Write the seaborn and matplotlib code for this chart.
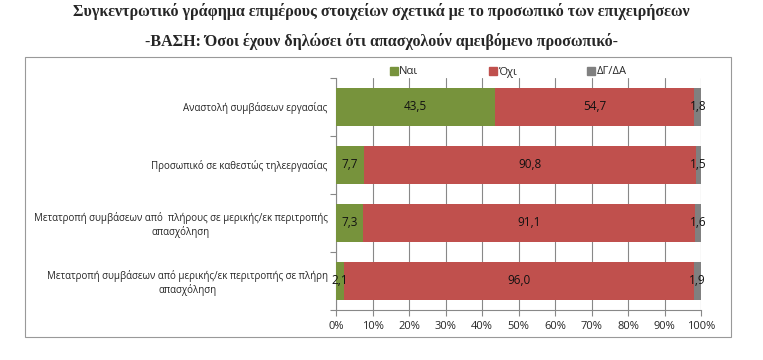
import numpy as np
import pandas as pd
import seaborn as sns
from matplotlib import pyplot as plt
from matplotlib.patches import Rectangle
from matplotlib.lines import Line2D

categories = [
    "Αναστολή συμβάσεων εργασίας",
    "Προσωπικό σε καθεστώς τηλεεργασίας",
    "Μετατροπή συμβάσεων από  πλήρους σε μερικής/εκ περιτροπής\nαπασχόληση",
    "Μετατροπή συμβάσεων από μερικής/εκ περιτροπής σε πλήρη\nαπασχόληση",
]
nai = [43.5, 7.7, 7.3, 2.1]
oxi = [54.7, 90.8, 91.1, 96.0]
dgda = [1.8, 1.5, 1.6, 1.9]
series_names = ["Ναι", "Όχι", "ΔΓ/ΔΑ"]
colors = ["#77933C", "#C0504D", "#808080"]
title = ("Συγκεντρωτικό γράφημα επιμέρους στοιχείων σχετικά με το προσωπικό των επιχειρήσεων\n"
         "-ΒΑΣΗ: Όσοι έχουν δηλώσει ότι απασχολούν αμειβόμενο προσωπικό-")


def main():
    sns.set_style("white")
    plt.rcParams['font.family'] = ['Open Sans', 'DejaVu Sans']

    df = pd.DataFrame({"cat": categories, "Ναι": nai, "Όχι": oxi, "ΔΓ/ΔΑ": dgda})
    cum = df[series_names].cumsum(axis=1)

    fig = plt.figure(figsize=(7.63, 3.6), dpi=100)
    ax = fig.add_axes([336 / 763, 1 - 310 / 360, 365 / 763, 232 / 360])

    # draw back-to-front so each cumulative bar shows its own segment
    for name, col in reversed(list(zip(series_names, colors))):
        sns.barplot(x=cum[name], y=df["cat"], color=col, orient="h",
                    width=0.67, ax=ax, saturation=1, edgecolor="none", zorder=3)

    for i in range(len(df)):
        left = 0
        for name in series_names:
            v = df[name].iloc[i]
            ax.text(left + v / 2, i, f"{v:.1f}".replace(".", ","),
                    ha="center", va="center", fontsize=8.5, color="#111111", zorder=5)
            left += v

    ax.set_xlim(0, 100)
    ax.set_ylim(3.5, -0.5)
    ax.set_xticks(np.arange(0, 101, 10))
    ax.set_xticklabels([f"{t}%" for t in range(0, 101, 10)], fontsize=8)
    ax.set_yticks([-0.5, 0.5, 1.5, 2.5, 3.5], minor=False)
    ax.set_yticklabels([])
    ax.set_yticks(range(4), minor=True)
    ax.set_yticklabels(categories, minor=True, fontsize=7, multialignment="center")
    ax.tick_params(axis="y", which="minor", length=0, pad=6)
    ax.tick_params(axis="y", which="major", length=4, color="#888888", direction="out", left=True)
    ax.tick_params(axis="x", length=4, color="#888888", direction="out", bottom=True, pad=4)
    ax.set_xlabel("")
    ax.set_ylabel("")
    ax.grid(axis="x", color="#888888", linewidth=0.8, zorder=0)
    for s in ["top", "right"]:
        ax.spines[s].set_visible(False)
    ax.spines["left"].set_color("#888888")
    ax.spines["bottom"].set_color("#888888")

    handles = [Line2D([], [], marker="s", linestyle="", markersize=6,
                      markerfacecolor=c, markeredgecolor=c) for c in colors]
    fig.legend(handles, series_names, loc="center", bbox_to_anchor=(508 / 763, 1 - 72 / 360),
               ncol=3, frameon=False, fontsize=8, handletextpad=0.1, columnspacing=6.3,
               handlelength=0.8)

    fig.patches.append(Rectangle((25 / 763, 1 - 337 / 360), 706 / 763, 280 / 360,
                                 transform=fig.transFigure, fill=False,
                                 edgecolor="#999999", linewidth=0.8))

    fig.text(0.5, 1 - 27 / 360, title, ha="center", va="center", fontsize=11.5,
             fontweight="bold", family=["Liberation Serif", "DejaVu Serif"], linespacing=2.0)

    fig.savefig("out.png", dpi=100)


if __name__ == '__main__':
    main()
